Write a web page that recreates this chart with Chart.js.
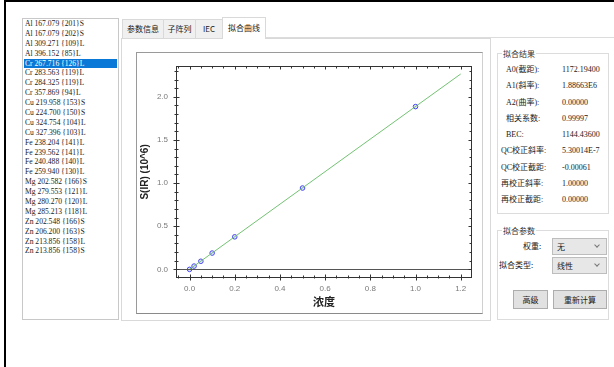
<!DOCTYPE html>
<html>
<head>
<meta charset="utf-8">
<script src="https://cdn.jsdelivr.net/npm/chart.js@4/dist/chart.umd.min.js"></script>
<style>
  body { margin: 0; width: 614px; height: 367px; background: #fff; position: relative; overflow: hidden;
         font-family: "Liberation Serif", "Noto Sans CJK SC", serif; color: #1a1a1a; }
  .abs { position: absolute; }
  .bar { position: absolute; background: #000; }
  #lines { left: 22px; top: 18px; width: 95px; height: 300px; border: 1px solid #c8c8c8; background: #fff; }
  #lines div { height: 9.9px; line-height: 9.9px; font-size: 7.6px; padding-left: 2px; white-space: nowrap; }
  #lines div.sel { background: #0a78d6; color: #fff; margin: 0 1px; padding-left: 1px; }
  .tab { position: absolute; top: 19px; height: 18px; line-height: 18px; font-size: 8px; text-align: center;
         background: #f0f0f0; border: 1px solid #d9d9d9; border-bottom: none; font-family: "Noto Sans CJK SC", sans-serif; }
  .tab.on { top: 17px; height: 21px; line-height: 20px; background: #fff; z-index: 2; }
  #panel { left: 121px; top: 38px; width: 368px; height: 281px; border: 1px solid #d9d9d9; background: #fff; }
  #frame { left: 136px; top: 52px; width: 345px; height: 260px; border: 1px solid #9a9a9a; border-right-color: #d0d0d0; border-bottom-color: #8a8a8a; }
  #frame canvas { position: absolute; left: 0; top: 0; }
  .grp { position: absolute; border: 1px solid #dcdcdc; }
  .grp .lg { position: absolute; left: 4px; top: -6px; background: #fff; padding: 0 1px; font-size: 8px; line-height: 11px;
             font-family: "Noto Sans CJK SC", sans-serif; color: #333; }
  .row { position: absolute; font-size: 8px; line-height: 10px; white-space: nowrap; }
  .cb { position: absolute; left: 552px; width: 53px; height: 15px; background: #e7e7e7; border: 1px solid #bdbdbd;
        font-size: 8px; line-height: 15px; font-family: "Noto Sans CJK SC", sans-serif; }
  .cb span { position: absolute; left: 4px; }
  .cb i { position: absolute; right: 7px; top: 4px; width: 3px; height: 3px; border-right: 1px solid #777; border-bottom: 1px solid #777; transform: rotate(45deg); }
  .btn { position: absolute; top: 290px; height: 17px; line-height: 17px; background: #e1e1e1; border: 1px solid #adadad;
         font-size: 8px; text-align: center; font-family: "Noto Sans CJK SC", sans-serif; }
</style>
</head>
<body>
<div class="bar" style="left:4px;top:0;width:610px;height:2px"></div>
<div class="bar" style="left:4px;top:0;width:2px;height:367px"></div>

<div id="lines" class="abs"></div>

<div class="abs" style="left:122px;top:37px;width:492px;height:1px;background:#dcdcdc"></div>
<div id="panel" class="abs"></div>
<div class="tab" style="left:122px;width:40px">参数信息</div>
<div class="tab" style="left:163px;width:31px">子阵列</div>
<div class="tab" style="left:195px;width:26px">IEC</div>
<div class="tab on" style="left:222px;width:42px">拟合曲线</div>

<div id="frame" class="abs"><canvas id="fitChart" width="344" height="260"></canvas></div>

<div class="grp" style="left:497px;top:53px;width:110px;height:159px"><span class="lg">拟合结果</span></div>
<div id="results"></div>

<div class="grp" style="left:497px;top:230px;width:110px;height:88px"><span class="lg">拟合参数</span></div>
<div class="row" style="left:523px;top:241px;font-family:'Noto Sans CJK SC'">权重:</div>
<div class="cb" style="top:238px"><span>无</span><i></i></div>
<div class="row" style="left:499px;top:260px;font-family:'Noto Sans CJK SC'">拟合类型:</div>
<div class="cb" style="top:257px"><span>线性</span><i></i></div>
<div class="btn" style="left:513px;width:33px">高级</div>
<div class="btn" style="left:553px;width:52px">重新计算</div>

<script>
// analysis lines shown in the list on the left
const lineNames = [
  'Al 167.079 {201}S', 'Al 167.079 {202}S', 'Al 309.271 {109}L', 'Al 396.152 {85}L',
  'Cr 267.716 {126}L', 'Cr 283.563 {119}L', 'Cr 284.325 {119}L', 'Cr 357.869 {94}L',
  'Cu 219.958 {153}S', 'Cu 224.700 {150}S', 'Cu 324.754 {104}L', 'Cu 327.396 {103}L',
  'Fe 238.204 {141}L', 'Fe 239.562 {141}L', 'Fe 240.488 {140}L', 'Fe 259.940 {130}L',
  'Mg 202.582 {166}S', 'Mg 279.553 {121}L', 'Mg 280.270 {120}L', 'Mg 285.213 {118}L',
  'Zn 202.548 {166}S', 'Zn 206.200 {163}S', 'Zn 213.856 {158}L', 'Zn 213.856 {158}S'
];
const selectedLine = 4;

// fit results panel
const resultLabels = ['A0(截距):', 'A1(斜率):', 'A2(曲率):', '相关系数:', 'BEC:',
                      'QC校正斜率:', 'QC校正截距:', '再校正斜率:', '再校正截距:'];
const resultValues = ['1172.19400', '1.88663E6', '0.00000', '0.99997', '1144.43600',
                      '5.30014E-7', '-0.00061', '1.00000', '0.00000'];

// standards: concentration and intensity (10^6)
const concentration = [0, 0.02, 0.05, 0.1, 0.2, 0.5, 1.0];
const intensity = [0.0, 0.038, 0.094, 0.189, 0.377, 0.943, 1.887];

// fitted line, drawn from the A0/A1 coefficients
const interceptA0 = 1172.194;
const slopeA1 = 1.88663e6;
const fitRange = [0, 1.2];

const xTickValues = [0, 0.2, 0.4, 0.6, 0.8, 1.0, 1.2];
const xTickLabels = ['0.0', '0.2', '0.4', '0.6', '0.8', '1.0', '1.2'];
const yTickValues = [0, 0.5, 1.0, 1.5, 2.0];
const yTickLabels = ['0.0', '0.5', '1.0', '1.5', '2.0'];

const list = document.getElementById('lines');
lineNames.forEach((name, i) => {
  const d = document.createElement('div');
  d.textContent = name;
  if (i === selectedLine) d.className = 'sel';
  list.appendChild(d);
});

const res = document.getElementById('results');
resultLabels.forEach((lab, i) => {
  const top = 65 + i * 16.25;
  const indent = i < 5 ? 506 : 501;
  res.insertAdjacentHTML('beforeend',
    `<div class="row" style="left:${indent}px;top:${top}px">${lab}</div>` +
    `<div class="row" style="left:562px;top:${top}px">${resultValues[i]}</div>`);
});

// box frame, zero line and inward minor/major ticks
const frameTicks = {
  id: 'frameTicks',
  afterDatasetsDraw(chart) {
    const { ctx, chartArea: a, scales: { x, y } } = chart;
    const L = Math.round(a.left) + 0.5, R = Math.round(a.right) - 0.5;
    const T = Math.round(a.top) + 0.5, B = Math.round(a.bottom) - 0.5;
    ctx.save();
    ctx.lineWidth = 1;
    ctx.strokeStyle = '#555';
    const z = Math.round(y.getPixelForValue(0)) + 0.5;
    ctx.beginPath(); ctx.moveTo(L, z); ctx.lineTo(R, z); ctx.stroke();

    ctx.strokeStyle = '#333';
    ctx.strokeRect(L, T, R - L, B - T);
    ctx.beginPath();
    for (let k = -1; k <= 25; k++) {
      const px = Math.round(x.getPixelForValue(k * 0.05)) + 0.5;
      if (px < L || px > R) continue;
      const major = k % 4 === 0;
      const len = major ? 3 : 2;
      ctx.moveTo(px, B - len); ctx.lineTo(px, B + (major ? 3 : 1));
      ctx.moveTo(px, T); ctx.lineTo(px, T + len);
    }
    for (let k = -1; k <= 23; k++) {
      const py = Math.round(y.getPixelForValue(k * 0.1)) + 0.5;
      if (py < T || py > B) continue;
      const major = k % 5 === 0;
      const len = major ? 3 : 2;
      ctx.moveTo(L - len, py); ctx.lineTo(L + len, py);
      ctx.moveTo(R - len, py); ctx.lineTo(R, py);
    }
    ctx.stroke();
    ctx.restore();
  }
};

const tickFont = { family: 'Liberation Sans', size: 8 };

new Chart(document.getElementById('fitChart'), {
  type: 'scatter',
  data: {
    datasets: [
      {
        type: 'line',
        data: fitRange.map(c => ({ x: c, y: (interceptA0 + slopeA1 * c) / 1e6 })),
        borderColor: '#72c272',
        borderWidth: 1,
        pointRadius: 0,
        fill: false
      },
      {
        data: concentration.map((c, i) => ({ x: c, y: intensity[i] })),
        pointRadius: 2.3,
        pointBorderWidth: 1,
        borderColor: '#4646f0',
        backgroundColor: 'rgba(150,150,255,0.25)'
      }
    ]
  },
  options: {
    responsive: false,
    animation: false,
    devicePixelRatio: 1,
    layout: { padding: { top: 5, right: 9, left: 0, bottom: 0 } },
    plugins: { legend: { display: false }, tooltip: { enabled: false } },
    scales: {
      x: {
        type: 'linear',
        min: -0.06,
        max: 1.25,
        afterBuildTicks: s => { s.ticks = xTickValues.map(v => ({ value: v })); },
        afterFit: s => { s.height = 35; },
        grid: { display: false, drawTicks: false },
        border: { display: false },
        ticks: {
          padding: 6,
          color: '#7a7a7a',
          font: tickFont,
          maxRotation: 0,
          callback: (v, i) => xTickLabels[i]
        },
        title: {
          display: true,
          text: '浓度',
          color: '#222',
          font: { family: 'Noto Sans CJK SC', size: 11, weight: 'bold' },
          padding: { top: 0, bottom: 5 }
        }
      },
      y: {
        type: 'linear',
        min: -0.1,
        max: 2.36,
        afterBuildTicks: s => { s.ticks = yTickValues.map(v => ({ value: v })); },
        afterFit: s => { s.width = 39; },
        grid: { display: false, drawTicks: false },
        border: { display: false },
        ticks: {
          padding: 8,
          color: '#7a7a7a',
          font: tickFont,
          callback: (v, i) => yTickLabels[i]
        },
        title: {
          display: true,
          text: 'S(IR) (10^6)',
          color: '#222',
          font: { family: 'Liberation Sans', size: 10, weight: 'bold' },
          padding: { top: 2, bottom: 0 }
        }
      }
    }
  },
  plugins: [frameTicks]
});
</script>
</body>
</html>
